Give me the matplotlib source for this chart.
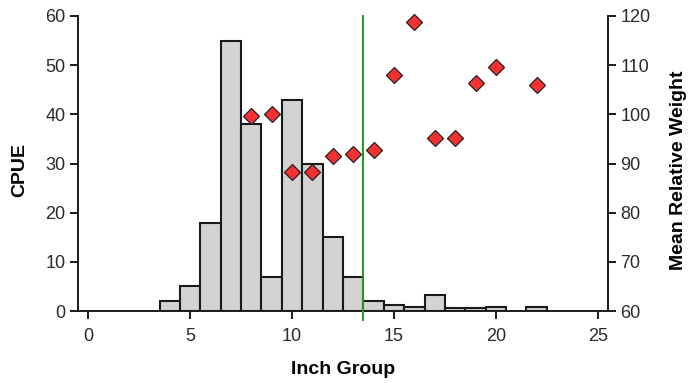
import matplotlib
matplotlib.use("Agg")
import matplotlib.pyplot as plt

plt.rcParams['font.family'] = ['Liberation Sans', 'DejaVu Sans']

# CPUE by inch group (bars)
inch_groups = [4, 5, 6, 7, 8, 9, 10, 11, 12, 13, 14, 15, 16, 17, 18, 19, 20, 22]
cpue = [2, 5, 18, 55, 38, 7, 43, 30, 15, 7, 2, 1.2, 0.8, 3.3, 0.7, 0.7, 0.8, 0.8]

# Mean relative weight by inch group (diamonds)
wr_groups = [8, 9, 10, 11, 12, 13, 14, 15, 16, 17, 18, 19, 20, 22]
wr_mean = [99.7, 100.0, 88.3, 88.3, 91.6, 91.9, 92.7, 107.9, 118.8, 95.2, 95.2, 106.3, 109.7, 106.0]

# Minimum length reference line
min_length = 13.5

x_ticks = [0, 5, 10, 15, 20, 25]
cpue_ticks = [0, 10, 20, 30, 40, 50, 60]
wr_ticks = [60, 70, 80, 90, 100, 110, 120]

tick_color = '#2a2a2a'
line_color = '#1a1a1a'
fig = plt.figure(figsize=(6.92, 3.83), dpi=100)
ax = fig.add_axes([78 / 692, 72 / 383, 530 / 692, 295 / 383])

ax.bar(inch_groups, cpue, width=1.0, color='#d3d3d3', edgecolor=line_color,
       linewidth=1.5, zorder=2)
ax.set_xlim(-0.5, 25.5)
ax.set_ylim(0, 60)
ax.set_xticks(x_ticks)
ax.set_yticks(cpue_ticks)
ax.spines['top'].set_visible(False)
ax.spines['right'].set_visible(False)
for s in ('left', 'bottom'):
    ax.spines[s].set_linewidth(1.4)
    ax.spines[s].set_color(line_color)
ax.tick_params(axis='both', direction='out', length=6, width=1.4,
               color=line_color, labelsize=13, labelcolor=tick_color, pad=3)
ax.tick_params(axis='x', pad=6)
ax.set_xlabel('Inch Group', fontsize=14, fontweight='bold', labelpad=12)
ax.set_ylabel('CPUE', fontsize=14, fontweight='bold', labelpad=12)
ax.yaxis.label.set_y(0.478)

ax.axvline(min_length, ymin=-0.03, ymax=1.0, color='#1e9a1e', linewidth=1.4,
           clip_on=False, zorder=3)

ax2 = ax.twinx()
ax2.set_ylim(60, 120)
ax2.set_yticks(wr_ticks)
ax2.plot(wr_groups, wr_mean, linestyle='none', marker='D', markersize=8.5,
         markerfacecolor='#f43030', markeredgecolor='#222222',
         markeredgewidth=0.9, zorder=4, clip_on=False)
for s in ('top', 'left', 'bottom'):
    ax2.spines[s].set_visible(False)
ax2.spines['right'].set_linewidth(1.4)
ax2.spines['right'].set_color(line_color)
ax2.tick_params(axis='y', direction='out', length=6, width=1.4,
                color=line_color, labelsize=13, labelcolor=tick_color, pad=3)
ax2.set_ylabel('Mean Relative Weight', fontsize=14, fontweight='bold',
               labelpad=14)
ax2.yaxis.label.set_y(0.478)

fig.savefig('out.png', dpi=100)
